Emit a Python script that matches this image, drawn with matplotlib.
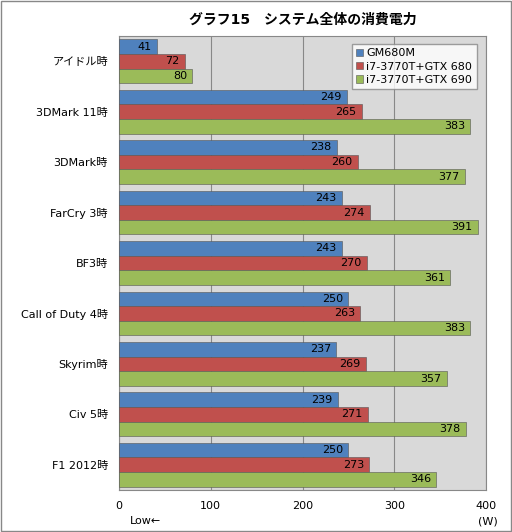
import numpy as np
import matplotlib.pyplot as plt

plt.rcParams['font.family'] = ['DejaVu Sans', 'Noto Sans CJK JP']

categories = ['アイドル時', '3DMark 11時', '3DMark時', 'FarCry 3時', 'BF3時',
              'Call of Duty 4時', 'Skyrim時', 'Civ 5時', 'F1 2012時']
gm680m = [41, 249, 238, 243, 243, 250, 237, 239, 250]
gtx680 = [72, 265, 260, 274, 270, 263, 269, 271, 273]
gtx690 = [80, 383, 377, 391, 361, 383, 357, 378, 346]
series = [('GM680M', gm680m, '#4f81bd'),
          ('i7-3770T+GTX 680', gtx680, '#c0504d'),
          ('i7-3770T+GTX 690', gtx690, '#9bbb59')]

fig = plt.figure(figsize=(5.12, 5.32), dpi=100)
fig.patch.set_facecolor('white')
fig.patches.append(plt.Rectangle((0.002, 0.002), 0.996, 0.996, transform=fig.transFigure,
                                 fill=False, edgecolor='#888888', lw=1))
ax = fig.add_axes([119/512, 42/532, 367/512, 454/532])
ax.set_facecolor('#d9d9d9')

y = np.arange(len(categories))
h = 0.29
for i, (name, vals, col) in enumerate(series):
    pos = y + (i - 1) * h
    ax.barh(pos, vals, height=h, color=col, edgecolor='#555555', lw=0.4, label=name, zorder=3)
    for p, v in zip(pos, vals):
        ax.text(v - 6, p, str(v), ha='right', va='center', fontsize=8, zorder=4)

ax.set_xlim(0, 400)
ax.set_ylim(len(categories) - 0.5, -0.5)
ax.set_xticks([0, 100, 200, 300, 400])
ax.tick_params(axis='x', labelsize=8, length=0, pad=8)
ax.set_yticks(y)
ax.set_yticklabels(categories, fontsize=8)
ax.tick_params(axis='y', length=0, pad=8)
ax.grid(axis='x', color='#888888', lw=0.8, zorder=0)
for s in ax.spines.values():
    s.set_color('#888888')

ax.set_title('グラフ15　システム全体の消費電力', fontsize=10, fontweight='bold', pad=9)
leg = ax.legend(loc='upper right', fontsize=8, frameon=True, fancybox=False,
                handlelength=0.6, handleheight=0.6, borderpad=0.4, labelspacing=0.3,
                handletextpad=0.3, bbox_to_anchor=(0.99, 0.995))
leg.get_frame().set_edgecolor('#888888')
leg.get_frame().set_facecolor('white')
fig.text(130/512, 8/532, 'Low←', fontsize=8)
fig.text(478/512, 8/532, '(W)', fontsize=8)

fig.savefig('out.png', dpi=100)
